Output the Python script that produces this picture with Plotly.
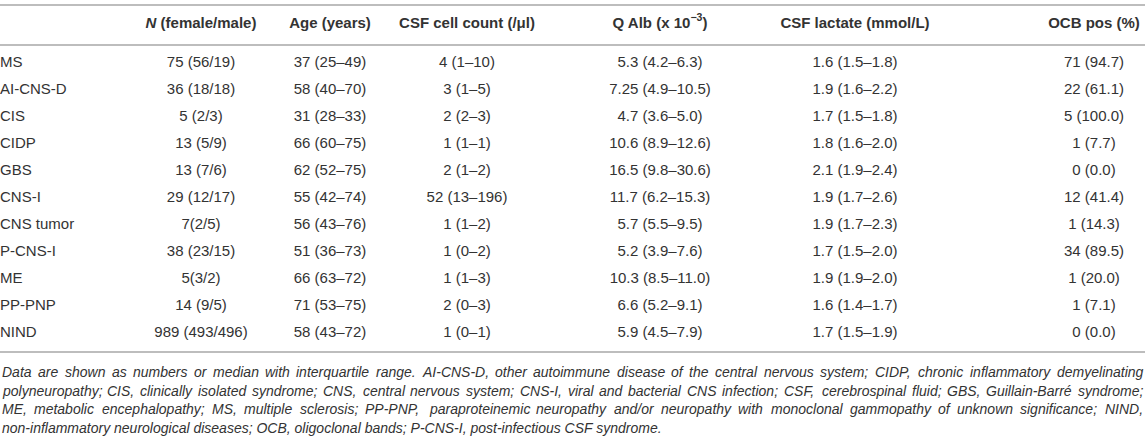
import plotly.graph_objects as go

# table content
groups = ["MS", "AI-CNS-D", "CIS", "CIDP", "GBS", "CNS-I", "CNS tumor",
          "P-CNS-I", "ME", "PP-PNP", "NIND"]
n_fm = ["75 (56/19)", "36 (18/18)", "5 (2/3)", "13 (5/9)", "13 (7/6)", "29 (12/17)",
        "7(2/5)", "38 (23/15)", "5(3/2)", "14 (9/5)", "989 (493/496)"]
age = ["37 (25–49)", "58 (40–70)", "31 (28–33)", "66 (60–75)", "62 (52–75)", "55 (42–74)",
       "56 (43–76)", "51 (36–73)", "66 (63–72)", "71 (53–75)", "58 (43–72)"]
cell_count = ["4 (1–10)", "3 (1–5)", "2 (2–3)", "1 (1–1)", "2 (1–2)", "52 (13–196)",
              "1 (1–2)", "1 (0–2)", "1 (1–3)", "2 (0–3)", "1 (0–1)"]
q_alb = ["5.3 (4.2–6.3)", "7.25 (4.9–10.5)", "4.7 (3.6–5.0)", "10.6 (8.9–12.6)",
         "16.5 (9.8–30.6)", "11.7 (6.2–15.3)", "5.7 (5.5–9.5)", "5.2 (3.9–7.6)",
         "10.3 (8.5–11.0)", "6.6 (5.2–9.1)", "5.9 (4.5–7.9)"]
lactate = ["1.6 (1.5–1.8)", "1.9 (1.6–2.2)", "1.7 (1.5–1.8)", "1.8 (1.6–2.0)",
           "2.1 (1.9–2.4)", "1.9 (1.7–2.6)", "1.9 (1.7–2.3)", "1.7 (1.5–2.0)",
           "1.9 (1.9–2.0)", "1.6 (1.4–1.7)", "1.7 (1.5–1.9)"]
ocb = ["71 (94.7)", "22 (61.1)", "5 (100.0)", "1 (7.7)", "0 (0.0)", "12 (41.4)",
       "1 (14.3)", "34 (89.5)", "1 (20.0)", "1 (7.1)", "0 (0.0)"]

headers = ["<i>N</i> (female/male)", "Age (years)", "CSF cell count (/μl)",
           "Q Alb (x 10<sup>−3</sup>)", "CSF lactate (mmol/L)", "OCB pos (%)"]

footnote = [
    "Data are shown as numbers or median with interquartile range. AI-CNS-D, other autoimmune disease of the central nervous system; CIDP, chronic inflammatory demyelinating",
    "polyneuropathy; CIS, clinically isolated syndrome; CNS, central nervous system; CNS-I, viral and bacterial CNS infection; CSF, cerebrospinal fluid; GBS, Guillain-Barré syndrome;",
    "ME, metabolic encephalopathy; MS, multiple sclerosis; PP-PNP, paraproteinemic neuropathy and/or neuropathy with monoclonal gammopathy of unknown significance; NIND,",
    "non-inflammatory neurological diseases; OCB, oligoclonal bands; P-CNS-I, post-infectious CSF syndrome.",
]

# layout in pixels
W, H = 1145, 442
col_x = [201, 330, 467, 660, 855, 1094]
row_y0, row_dy = 63, 27
header_y = 24
text_col = "#333333"
rule_col = "#bdbdbd"
font = "Liberation Sans, Arial, sans-serif"
body_size = 15
note_size = 14
note_y0, note_dy = 372, 18.5
note_right = 1141

# Arial / Liberation Sans advance widths (per 1000 em), used to justify the note
_w = {" ": 278, ",": 278, "-": 333, ".": 278, "/": 278, ";": 278, "(": 333, ")": 333,
      "A": 667, "B": 667, "C": 722, "D": 722, "E": 667, "F": 611, "G": 778, "H": 722,
      "I": 278, "J": 500, "K": 667, "L": 556, "M": 833, "N": 722, "O": 778, "P": 667,
      "Q": 778, "R": 722, "S": 667, "T": 611, "U": 722, "V": 667, "W": 944, "X": 667,
      "Y": 667, "Z": 611, "a": 556, "b": 556, "c": 500, "d": 556, "e": 556, "f": 278,
      "g": 556, "h": 556, "i": 222, "j": 222, "k": 500, "l": 222, "m": 833, "n": 556,
      "o": 556, "p": 556, "q": 556, "r": 333, "s": 500, "t": 278, "u": 556, "v": 500,
      "w": 722, "x": 500, "y": 500, "z": 500, "é": 556}


def text_width(s, size):
    return sum(_w.get(ch, 556) for ch in s) * size / 1000.0


columns = [n_fm, age, cell_count, q_alb, lactate, ocb]
rows_y = [row_y0 + i * row_dy for i in range(len(groups))]

fig = go.Figure()

fig.add_trace(go.Scatter(
    x=[0] * len(groups), y=rows_y, text=groups, mode="text",
    textposition="middle right",
    textfont=dict(family=font, size=body_size, color=text_col),
    hoverinfo="skip", showlegend=False,
))
for cx, vals in zip(col_x, columns):
    fig.add_trace(go.Scatter(
        x=[cx] * len(vals), y=rows_y, text=vals, mode="text",
        textposition="middle center",
        textfont=dict(family=font, size=body_size, color=text_col),
        hoverinfo="skip", showlegend=False,
    ))

fig.add_trace(go.Scatter(
    x=col_x, y=[header_y] * len(headers), text=["<b>" + h + "</b>" for h in headers],
    mode="text", textposition="middle center",
    textfont=dict(family=font, size=body_size, color=text_col),
    hoverinfo="skip", showlegend=False,
))

# horizontal rules
bottom_rule = 352
for yy in [5, 45, bottom_rule]:
    fig.add_shape(type="line", x0=0, x1=W, y0=yy, y1=yy,
                  line=dict(color=rule_col, width=2), layer="above")

# footnote, justified except for its last line
for i, line in enumerate(footnote):
    ly = note_y0 + i * note_dy
    words = line.split(" ")
    if i == len(footnote) - 1:
        fig.add_annotation(
            x=0, y=ly, text="<i>" + line + "</i>", showarrow=False,
            xanchor="left", yanchor="middle",
            font=dict(family=font, size=note_size, color=text_col),
        )
        continue
    widths = [text_width(wd, note_size) for wd in words]
    gap = (note_right - sum(widths)) / (len(words) - 1)
    xpos = 0.0
    for wd, ww in zip(words, widths):
        fig.add_annotation(
            x=xpos, y=ly, text="<i>" + wd + "</i>", showarrow=False,
            xanchor="left", yanchor="middle",
            font=dict(family=font, size=note_size, color=text_col),
        )
        xpos += ww + gap

fig.update_layout(
    width=W, height=H,
    margin=dict(l=0, r=0, t=0, b=0),
    paper_bgcolor="white", plot_bgcolor="white",
    xaxis=dict(range=[0, W], visible=False, fixedrange=True),
    yaxis=dict(range=[H, 0], visible=False, fixedrange=True),
)

# drop the default page margin so the figure sits at the window's corner
fig.write_html("out.html", config={"displayModeBar": False},
               post_script="document.body.style.margin = '0';")
